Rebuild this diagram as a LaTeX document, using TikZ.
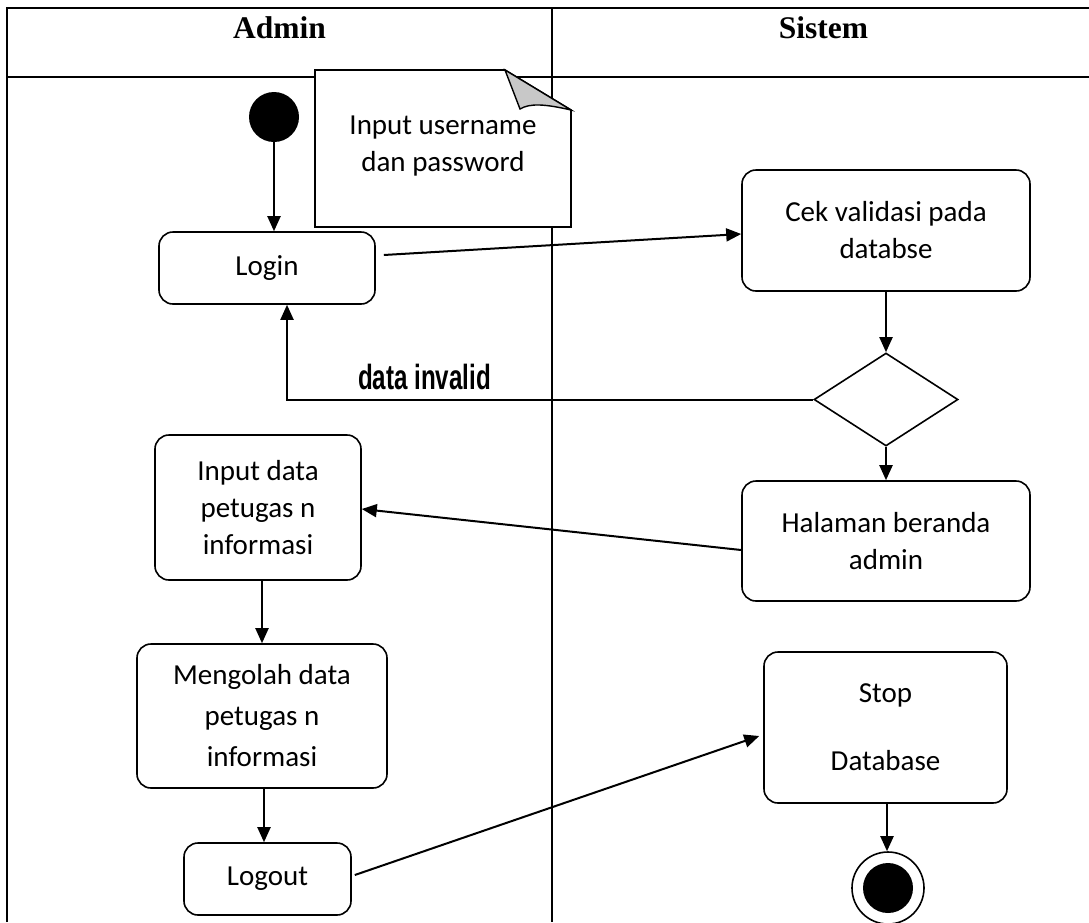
\documentclass[tikz,border=0pt]{standalone}
\usepackage{fontspec}
\setmainfont{Carlito}
\newfontfamily\titlefont{Liberation Serif}
\newfontfamily\invalidfont{Liberation Sans}
\usetikzlibrary{arrows.meta,shapes.geometric}
\definecolor{foldgray}{RGB}{200,200,200}
\begin{document}
\begin{tikzpicture}[x=1pt,y=-1pt,
  act/.style={draw, line width=1.6pt, rounded corners=14pt, align=center, inner sep=0pt,
    font=\fontsize{29}{37}\selectfont},
  arr/.style={line width=2pt, -{Triangle[length=15pt,width=13pt]}},
  frame/.style={line width=2.6pt},
  title/.style={anchor=base, font=\titlefont\bfseries\fontsize{31.5}{31.5}\selectfont}]
\useasboundingbox (0,0) rectangle (1089,922);
% frame
\draw[frame] (7,922) -- (7,8) -- (1089,8);
\draw[frame] (7,77) -- (1089,77);
\draw[frame] (552,8) -- (552,922);
\node[title] (tadmin) at (279.5,38) {Admin};
\node[title] (tsistem) at (823.5,38) {Sistem};
% note
\draw[line width=1.6pt, fill=white] (315,70) -- (505,70) -- (571,110) -- (571,227) -- (315,227) -- cycle;
\draw[line width=1.4pt, fill=foldgray] (505,70) -- (520,109) .. controls (530,103) and (545,104) .. (571,110) -- cycle;
\node[align=center, font=\fontsize{29}{37}\selectfont] (note) at (443,146.5) {Input username\\dan password};
% nodes
\node[circle, fill=black, minimum size=50pt, inner sep=0pt] (start) at (274,117) {};
\node[act, minimum width=216pt, minimum height=72pt] (login) at (267,268) {Login};
\node[act, minimum width=288pt, minimum height=121pt] (cek) at (886,230.5) {Cek validasi pada\\databse};
\node[draw, diamond, line width=1.6pt, minimum width=144pt, minimum height=93pt, inner sep=0pt] (dec) at (886,399.5) {};
\node[act, minimum width=206pt, minimum height=145pt] (input) at (258,507.5) {Input data\\petugas n\\informasi};
\node[act, minimum width=288pt, minimum height=120pt] (halaman) at (886,541) {Halaman beranda\\admin};
\node[act, minimum width=250pt, minimum height=144pt] (olah) at (262,716) {Mengolah data\\[4pt]petugas n\\[4pt]informasi};
\node[act, minimum width=243pt, minimum height=151pt] (stop) at (885.5,727.5) {Stop\\[31pt]Database};
\node[act, minimum width=167pt, minimum height=72pt] (logout) at (267.5,879) {Logout};
\node[circle, draw, line width=1.6pt, minimum size=72pt, inner sep=0pt] (final) at (888,888) {};
\node[circle, fill=black, minimum size=50pt, inner sep=0pt] (finaldot) at (final) {};
\node (invalid) at (424.5,377) {\invalidfont\bfseries\fontsize{35}{35}\selectfont\scalebox{0.69}[1]{data invalid}};
% connectors
\draw[arr] (start) -- (start |- login.north);
\draw[arr] ([xshift=8pt,yshift=13pt]login.east) -- ([yshift=-3.5pt]cek.west);
\draw[arr] (cek.south) -- (dec.north);
\draw[arr] (dec.west) -| ([xshift=20pt]login.south);
\draw[arr] (dec.south) -- (halaman.north);
\draw[arr] ([yshift=-9pt]halaman.west) -- ([yshift=-1.5pt]input.east);
\draw[arr] ([xshift=4pt]input.south) -- ([xshift=4pt]input.south |- olah.north);
\draw[arr] ([xshift=2pt]olah.south) -- ([xshift=2pt]olah.south |- logout.north);
\draw[arr] ([xshift=3pt,yshift=4pt]logout.east) -- ([xshift=-4pt,yshift=-8.5pt]stop.west);
\draw[arr] ([xshift=1.5pt]stop.south) -- ([xshift=1.5pt]stop.south |- final.north);
\end{tikzpicture}
\end{document}
